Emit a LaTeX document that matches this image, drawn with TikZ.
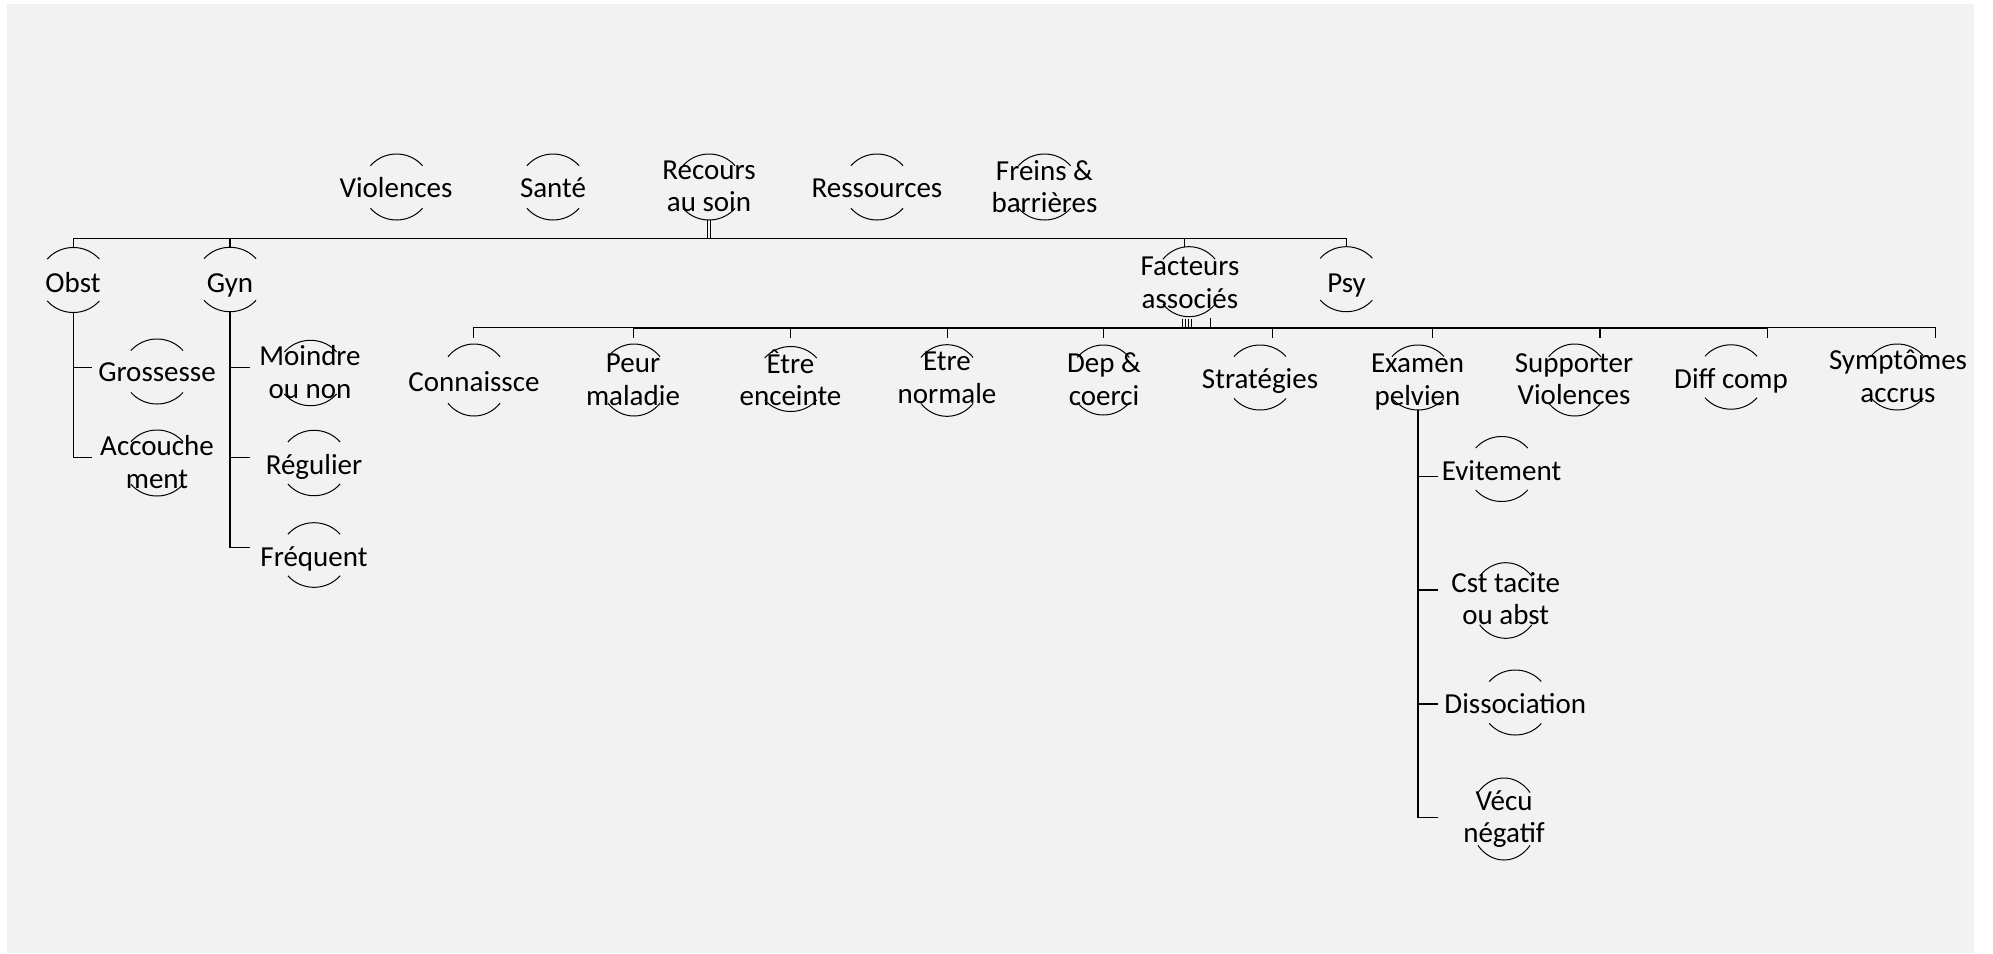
\documentclass[tikz,border=0pt]{standalone}
\usepackage{fontspec}
\setmainfont{Carlito}
\usetikzlibrary{shapes.geometric}
\definecolor{bgc}{HTML}{F2F2F2}
\setlength{\lineskiplimit}{-100pt}
\newcommand{\ls}{\rule[-0.25em]{0pt}{1.03em}}
\tikzset{
  lbl/.style={font=\fontsize{29}{32.5}\selectfont, align=center, inner sep=0pt, yshift=-2pt, execute at begin node=\ls},
  ringnode/.style={ellipse, inner sep=0pt, minimum width=68pt, minimum height=#1},
  conn/.style={line width=1.5pt, draw=black},
  thinconn/.style={line width=0.9pt, draw=black},
  arcl/.style={line width=1pt, draw=black},
}
\newcommand{\ring}[4]{%
  \node[ringnode={2*#4}] (#1) at (#2,#3) {};
  \draw[arcl,domain=40:140,samples=25,smooth,variable=\t] plot ({#2+34*cos(\t)},{#3+#4*sin(\t)});
  \draw[arcl,domain=220:320,samples=25,smooth,variable=\t] plot ({#2+34*cos(\t)},{#3+#4*sin(\t)});
}
\begin{document}
\begin{tikzpicture}[x=1pt,y=-1pt]
\useasboundingbox (0,0) rectangle (1993,953);
\fill[white] (0,0) rectangle (1993,953);
\fill[bgc] (7,4) rectangle (1974,953);

% ---------- top row ----------
\ring{c-vio}{396.5}{187}{33} \node[lbl] (vio) at (396,188) {Violences};
\ring{c-san}{553}{187}{33} \node[lbl] (san) at (553,188) {Santé};
\ring{c-rec}{709}{187}{33} \node[lbl] (rec) at (709,188) {Recours\\\ls au soin};
\ring{c-res}{877}{187}{33} \node[lbl] (res) at (877,188) {Ressources};
\ring{c-fre}{1044.5}{187}{33} \node[lbl] (frb) at (1044.5,188) {Freins \&\\\ls barrières};

% ---------- second row ----------
\ring{c-obs}{73.3}{280}{32.5} \node[lbl] (obs) at (73,282.5) {Obst};
\ring{c-gyn}{230}{279.5}{32.2} \node[lbl] (gyn) at (230,282.5) {Gyn};
\ring{c-fac}{1189}{281.7}{35} \node[lbl] (fac) at (1190,284.5) {Facteurs\\\ls associés};
\ring{c-psy}{1346.3}{279.2}{32.5} \node[lbl] (psy) at (1346.5,282.5) {Psy};

% ---------- Obst / Gyn children ----------
\ring{c-gro}{157}{371.5}{32.5} \node[lbl] (gro) at (157,372) {Grossesse};
\ring{c-acc}{157}{463}{33} \node[lbl] (acc) at (157,463.5) {Accouche\\\ls ment};
\ring{c-moi}{310.5}{373}{32.7} \node[lbl] (moi) at (310,373.5) {Moindre\\\ls ou non};
\ring{c-reg}{314}{463}{32.7} \node[lbl] (reg) at (314,464.5) {Régulier};
\ring{c-frq}{314}{555}{32.3} \node[lbl] (frq) at (314,556.5) {Fréquent};

% ---------- Facteurs children ----------
\ring{c-con}{474}{380}{36} \node[lbl] (con) at (474,381.5) {Connaissce};
\ring{c-peu}{634}{380}{36} \node[lbl] (peu) at (633,381.5) {Peur\\\ls maladie};
\ring{c-enc}{790.7}{379}{32.5} \node[lbl] (enc) at (790.5,379.5) {Être\\\ls enceinte};
\ring{c-nor}{947}{380.5}{35.8} \node[lbl] (nor) at (947,379.5) {Etre\\\ls normale};
\ring{c-dep}{1103.3}{380}{35} \node[lbl] (dep) at (1104,380.5) {Dep \&\\\ls coerci};
\ring{c-str}{1260}{377.5}{32.5} \node[lbl] (str) at (1260,378.5) {Stratégies};
\ring{c-exa}{1418}{377.5}{32.5} \node[lbl] (exa) at (1417.5,381.5) {Examen\\\ls pelvien};
\ring{c-sup}{1574.7}{380}{36} \node[lbl] (sup) at (1574,380.5) {Supporter\\\ls Violences};
\ring{c-dif}{1731}{377}{32.2} \node[lbl] (dif) at (1731,379) {Diff comp};
\ring{c-sym}{1897.3}{377}{33} \node[lbl] (sym) at (1898,378) {Symptômes\\\ls accrus};

% ---------- Examen children ----------
\ring{c-evi}{1501.7}{469}{32.5} \node[lbl] (evi) at (1501.5,471) {Evitement};
\ring{c-cst}{1505.7}{600.5}{37.8} \node[lbl] (cst) at (1505.7,600.2) {Cst tacite\\\ls ou abst};
\ring{c-dis}{1515.3}{702.5}{32.5} \node[lbl] (dis) at (1515.3,703.5) {Dissociation};
\ring{c-vec}{1504}{819}{41} \node[lbl] (vec) at (1504,818) {Vécu\\\ls négatif};

% ---------- connectors: level 1 ----------
\coordinate (bar1) at (0,238.3);
\coordinate (fa-top) at (1184.3,246.7);
\draw[conn] (c-obs.north) -- (c-obs.north |- bar1) -- (c-psy.north |- bar1) -- (c-psy.north);
\draw[conn] (c-gyn.north) -- (c-gyn.north |- bar1);
\draw[conn] (fa-top) -- (fa-top |- bar1);
\draw[line width=1.2pt] ([xshift=-1.8pt]c-rec.south) -- ([xshift=-1.8pt]c-rec.south |- bar1);
\draw[line width=1.2pt] ([xshift=1.8pt]c-rec.south) -- ([xshift=1.8pt]c-rec.south |- bar1);

% ---------- Obst children ----------
\coordinate (gro-in) at (92,367.3);
\coordinate (acc-in) at (92,457.3);
\draw[conn] (c-obs.south) |- (acc-in);
\draw[conn] (c-obs.south |- gro-in) -- (gro-in);

% ---------- Gyn children ----------
\coordinate (moi-in) at (250,367.3);
\coordinate (reg-in) at (250,457.3);
\coordinate (frq-in) at (250,547.3);
\draw[conn] (c-gyn.south) |- (frq-in);
\draw[conn] (c-gyn.south |- moi-in) -- (moi-in);
\draw[conn] (c-gyn.south |- reg-in) -- (reg-in);

% ---------- Facteurs children bar ----------
\coordinate (bar2) at (0,327.7);
\coordinate (t1) at (473.3,337.5);
\coordinate (t2) at (633.7,337.5);
\coordinate (t3) at (790.3,337.5);
\coordinate (t4) at (947.3,337.5);
\coordinate (t5) at (1103.3,337.5);
\coordinate (t6) at (1272.3,337.5);
\coordinate (t7) at (1432.7,337.5);
\coordinate (t8) at (1600,337.5);
\coordinate (t9) at (1767.7,337.5);
\coordinate (t10) at (1935.7,337.5);
\draw[conn] (t1 |- bar2) -- (t10 |- bar2);
\draw[line width=2.2pt] (t2 |- bar2) -- (t9 |- bar2);
\foreach \tk in {t1,t2,t3,t4,t5,t6,t7,t8,t9,t10}{\draw[conn] (\tk) -- (\tk |- bar2);}
\coordinate (fa-bot) at (1189,319);
\foreach \dx in {-7,-4,-1,2}{\draw[thinconn] ([xshift=\dx pt]fa-bot) -- ([xshift=\dx pt]fa-bot |- bar2);}
\draw[thinconn] ([xshift=21.7pt,yshift=1pt]fa-bot) -- ([xshift=21.7pt]fa-bot |- bar2);

% ---------- Examen children ----------
\coordinate (evi-in) at (1438.3,476.7);
\coordinate (cst-in) at (1438.3,590);
\coordinate (dis-in) at (1438.3,704);
\coordinate (vec-in) at (1438.3,817.7);
\draw[conn] (c-exa.south) |- (vec-in);
\draw[conn] (c-exa.south |- evi-in) -- (evi-in);
\draw[conn] (c-exa.south |- cst-in) -- (cst-in);
\draw[conn] (c-exa.south |- dis-in) -- (dis-in);
\end{tikzpicture}
\end{document}
